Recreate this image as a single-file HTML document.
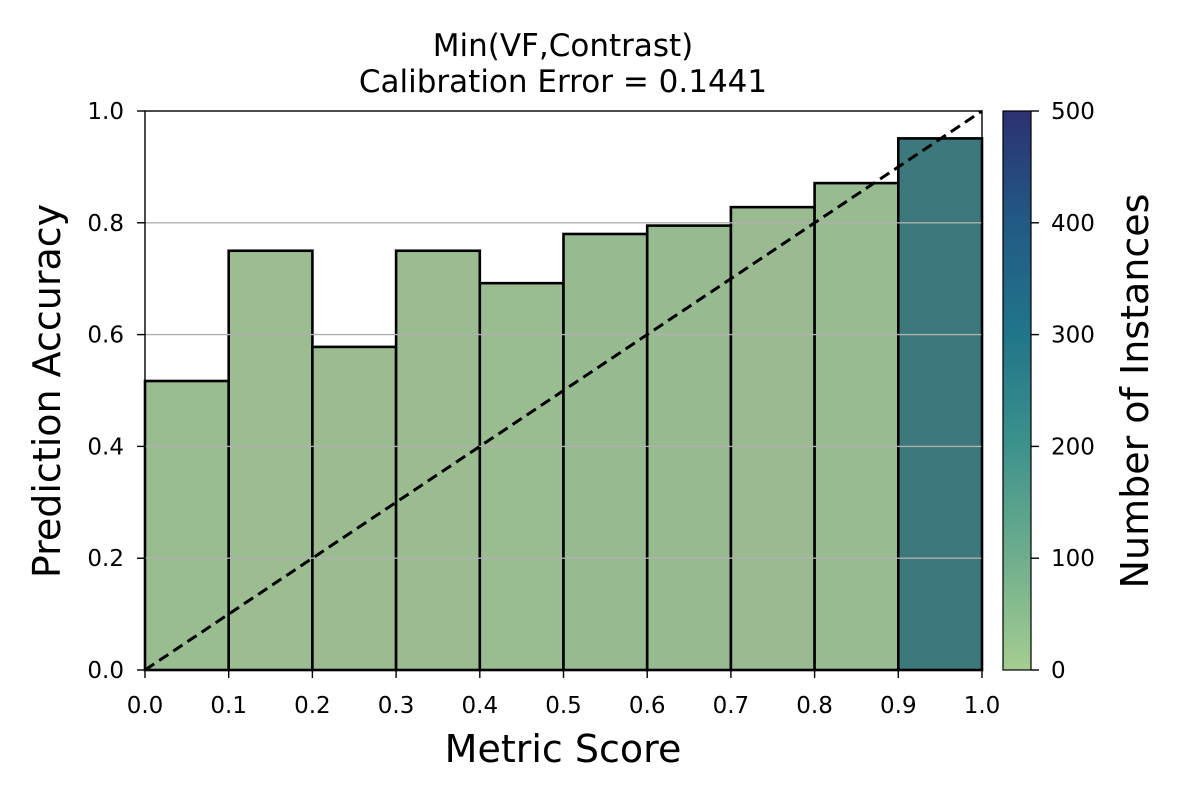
<!DOCTYPE html>
<html><head><meta charset="utf-8"><style>
html,body{margin:0;padding:0;background:#fff;}
svg{display:block;font-family:"DejaVu Sans","Liberation Sans",sans-serif;}
</style></head><body>
<svg id="chart" width="1200" height="800" viewBox="0 0 1200 800">
<defs>
<linearGradient id="crest" x1="0" y1="1" x2="0" y2="0">
<stop offset="0" stop-color="#a5cd90"/>
<stop offset="0.2" stop-color="#6fae8d"/>
<stop offset="0.4" stop-color="#3d928c"/>
<stop offset="0.6" stop-color="#21758a"/>
<stop offset="0.8" stop-color="#225a85"/>
<stop offset="1" stop-color="#2c3172"/>
</linearGradient>
</defs>
<text x="563" y="56" text-anchor="middle" font-size="31">Min(VF,Contrast)</text>
<text x="563" y="92" text-anchor="middle" font-size="31">Calibration Error = 0.1441</text>
<g id="plot"></g>
<rect x="1003" y="111" width="28" height="559" fill="url(#crest)"/>
<rect x="1003" y="111" width="28" height="559" fill="none" stroke="#000" stroke-width="1.2"/>
<g id="cbar"></g>
<text x="563" y="762" text-anchor="middle" font-size="38">Metric Score</text>
<text transform="translate(60,391) rotate(-90)" text-anchor="middle" font-size="38">Prediction Accuracy</text>
<text transform="translate(1148,391) rotate(-90)" text-anchor="middle" font-size="38">Number of Instances</text>
</svg>
<script>
const binStarts=[0,0.1,0.2,0.3,0.4,0.5,0.6,0.7,0.8,0.9];
const accuracy=[0.517,0.75,0.578,0.75,0.692,0.78,0.795,0.828,0.871,0.951];
const counts=[25,20,22,22,25,32,30,26,28,260];
const xTicks=[0,0.1,0.2,0.3,0.4,0.5,0.6,0.7,0.8,0.9,1.0];
const yTicks=[0,0.2,0.4,0.6,0.8,1.0];
const cbTicks=[0,100,200,300,400,500];
const NS="http://www.w3.org/2000/svg";
const X0=145,X1=982,Y0=670,Y1=111;
const xs=v=>X0+v*(X1-X0), ys=v=>Y0-v*(Y0-Y1);
const cs=v=>Y0-v/500*(Y0-Y1);
const stops=[[0,[165,205,144]],[0.2,[111,174,141]],[0.4,[61,146,140]],[0.6,[33,117,138]],[0.8,[34,90,133]],[1,[44,49,114]]];
const grey=[160,165,150];
function col(c){let t=Math.min(1,c/500);let i=0;while(i<stops.length-2&&t>stops[i+1][0])i++;
 const a=stops[i],b=stops[i+1],f=(t-a[0])/(b[0]-a[0]);
 const rgb=a[1].map((v,k)=>v+(b[1][k]-v)*f).map((v,k)=>Math.round(v*0.7+grey[k]*0.3*(t>0.3?0.6:1)));
 return `rgb(${rgb.join(',')})`;}
const g=document.getElementById('plot');
function mk(tag,at,parent){const e=document.createElementNS(NS,tag);for(const k in at)e.setAttribute(k,at[k]);(parent||g).appendChild(e);return e;}
binStarts.forEach((s,i)=>{
 const r=mk('rect',{x:xs(s),y:ys(accuracy[i]),width:xs(s+0.1)-xs(s),height:Y0-ys(accuracy[i]),fill:col(counts[i]),stroke:'#000','stroke-width':2.6});
 
 
});
yTicks.forEach(v=>{
 if(v>0&&v<1){const l=mk('line',{x1:X0,x2:X1,y1:ys(v),y2:ys(v),stroke:'#b0b0b0','stroke-width':1.4});
 
 }
 mk('line',{x1:X0-8,x2:X0,y1:ys(v),y2:ys(v),stroke:'#000','stroke-width':1.4});
 const t=mk('text',{x:X0-21,y:ys(v)+8,'text-anchor':'end','font-size':23});t.textContent=v.toFixed(1);
 
 
});
xTicks.forEach(v=>{
 mk('line',{x1:xs(v),x2:xs(v),y1:Y0,y2:Y0+8,stroke:'#000','stroke-width':1.4});
 const t=mk('text',{x:xs(v),y:713,'text-anchor':'middle','font-size':23});t.textContent=v.toFixed(1);
 
 
});
const d=mk('line',{x1:xs(0),y1:ys(0),x2:xs(1),y2:ys(1),stroke:'#000','stroke-width':3,'stroke-dasharray':'11,6'});


const fr=mk('rect',{x:X0,y:Y1,width:X1-X0,height:Y0-Y1,fill:'none',stroke:'#000','stroke-width':1.4});


const cb=document.getElementById('cbar');
cbTicks.forEach(v=>{
 mk('line',{x1:1031,x2:1039,y1:cs(v),y2:cs(v),stroke:'#000','stroke-width':1.4},cb);
 const t=mk('text',{x:1051,y:cs(v)+8,'font-size':23},cb);t.textContent=v;
 
 
});
</script>
</body></html>
